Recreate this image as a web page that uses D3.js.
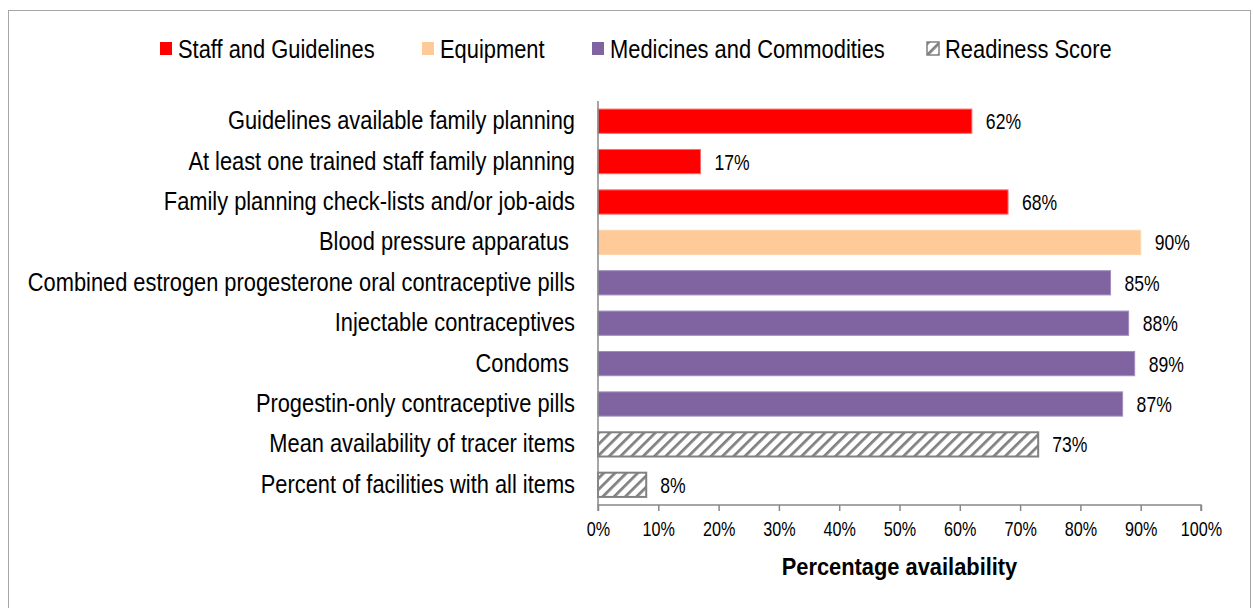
<!DOCTYPE html>
<html>
<head>
<meta charset="utf-8">
<script src="https://cdn.jsdelivr.net/npm/d3@7"></script>
<style>
  html, body { margin: 0; padding: 0; background: #fff; }
  svg { display: block; }
  text { font-family: "Liberation Sans", Arial, sans-serif; fill: #000; white-space: pre; }
</style>
</head>
<body>
<svg id="chart" width="1253" height="608"></svg>
<script>
// Items assessed for family planning readiness
const categories = [
  "Guidelines available family planning",
  "At least one trained staff family planning",
  "Family planning check-lists and/or job-aids",
  "Blood pressure apparatus ",
  "Combined estrogen progesterone oral contraceptive pills",
  "Injectable contraceptives",
  "Condoms ",
  "Progestin-only contraceptive pills",
  "Mean availability of tracer items",
  "Percent of facilities with all items"
];
const values = [62, 17, 68, 90, 85, 88, 89, 87, 73, 8];
const groupOf = ["staff", "staff", "staff", "equip", "med", "med", "med", "med", "ready", "ready"];

const groups = ["staff", "equip", "med", "ready"];
const groupNames = ["Staff and Guidelines", "Equipment", "Medicines and Commodities", "Readiness Score"];
const xTicks = [0, 10, 20, 30, 40, 50, 60, 70, 80, 90, 100];
const xTitle = "Percentage availability";

const svg = d3.select("#chart");
const W = 1253, H = 608;

// Condense text horizontally to a narrow face
function narrow(sel, k) {
  sel.each(function () {
    const w = this.getComputedTextLength();
    this.setAttribute("textLength", (w * k).toFixed(1));
    this.setAttribute("lengthAdjust", "spacingAndGlyphs");
  });
}

// Outer frame
svg.append("rect")
  .attr("x", 8.5).attr("y", 10.5)
  .attr("width", W - 11).attr("height", H)
  .attr("fill", "#fff").attr("stroke", "#a6a6a6").attr("stroke-width", 1);

// Diagonal hatch for the readiness score
const defs = svg.append("defs");
const pat = defs.append("pattern")
  .attr("id", "hatch").attr("patternUnits", "userSpaceOnUse")
  .attr("width", 8).attr("height", 8)
  .attr("patternTransform", "rotate(45)");
pat.append("rect").attr("width", 8).attr("height", 8).attr("fill", "#fff");
pat.append("line").attr("x1", 0).attr("y1", 0).attr("x2", 0).attr("y2", 8)
  .attr("stroke", "#808080").attr("stroke-width", 5.5);

const fills = d3.scaleOrdinal()
  .domain(groups)
  .range(["#ff0000", "#fdca98", "#8064a2", "url(#hatch)"]);
const strokes = d3.scaleOrdinal()
  .domain(groups)
  .range(["#ff6b6b", "#fdd5ad", "#a18ebf", "#808080"]);

const x = d3.scaleLinear().domain([0, 100]).range([598, 1201]);
const y = d3.scaleBand().domain(categories).range([101, 505]).paddingInner(0.4).paddingOuter(0.2);

// Bars
svg.append("g").selectAll("rect")
  .data(categories)
  .join("rect")
  .attr("x", x(0))
  .attr("y", d => y(d))
  .attr("width", (d, i) => x(values[i]) - x(0))
  .attr("height", y.bandwidth())
  .attr("fill", (d, i) => fills(groupOf[i]))
  .attr("stroke", (d, i) => strokes(groupOf[i]))
  .attr("stroke-width", (d, i) => groupOf[i] === "ready" ? 2 : 1);

// Value labels
svg.append("g").selectAll("text")
  .data(categories)
  .join("text")
  .attr("x", (d, i) => x(values[i]) + 14)
  .attr("y", d => y(d) + y.bandwidth() / 2)
  .attr("dy", "0.36em")
  .attr("font-size", 22)
  .text((d, i) => values[i] + "%")
  .call(narrow, 0.8);

// Category axis (line only, labels on the left)
const yAxis = svg.append("g")
  .attr("transform", `translate(${x(0)},0)`)
  .call(d3.axisLeft(y).tickSize(0).tickPadding(23));
yAxis.select(".domain").attr("stroke", "#888").attr("stroke-width", 1.5)
  .attr("d", "M0,101V505");
yAxis.selectAll("text")
  .attr("font-size", 25).attr("fill", "#000")
  .attr("font-family", "Liberation Sans, Arial, sans-serif")
  .call(narrow, 0.873);

// Percentage axis
const xAxis = svg.append("g")
  .attr("transform", "translate(0,505)")
  .call(d3.axisBottom(x).tickValues(xTicks).tickSize(6).tickPadding(10)
    .tickFormat(d => d + "%"));
xAxis.select(".domain").attr("stroke", "#888").attr("stroke-width", 1.5)
  .attr("d", `M${x(0)},6V0H${x(100)}V6`);
xAxis.selectAll(".tick line").attr("stroke", "#888").attr("stroke-width", 1.5);
xAxis.selectAll("text")
  .attr("font-size", 21).attr("fill", "#000")
  .attr("font-family", "Liberation Sans, Arial, sans-serif")
  .call(narrow, 0.77);

svg.append("text")
  .attr("x", x(50)).attr("y", 575)
  .attr("text-anchor", "middle")
  .attr("font-size", 24).attr("font-weight", "bold")
  .text(xTitle)
  .call(narrow, 0.91);

// Legend
const legendX = [160, 422, 592, 927];
const lg = svg.append("g").selectAll("g")
  .data(groups)
  .join("g")
  .attr("transform", (d, i) => `translate(${legendX[i]},42)`);
lg.append("rect")
  .attr("width", 12).attr("height", 13)
  .attr("fill", d => fills(d))
  .attr("stroke", d => d === "ready" ? "#808080" : "none")
  .attr("stroke-width", 1.5);
lg.append("text")
  .attr("x", 18).attr("y", 7).attr("dy", "0.36em")
  .attr("font-size", 25)
  .text((d, i) => groupNames[i])
  .call(narrow, 0.875);
</script>
</body>
</html>
